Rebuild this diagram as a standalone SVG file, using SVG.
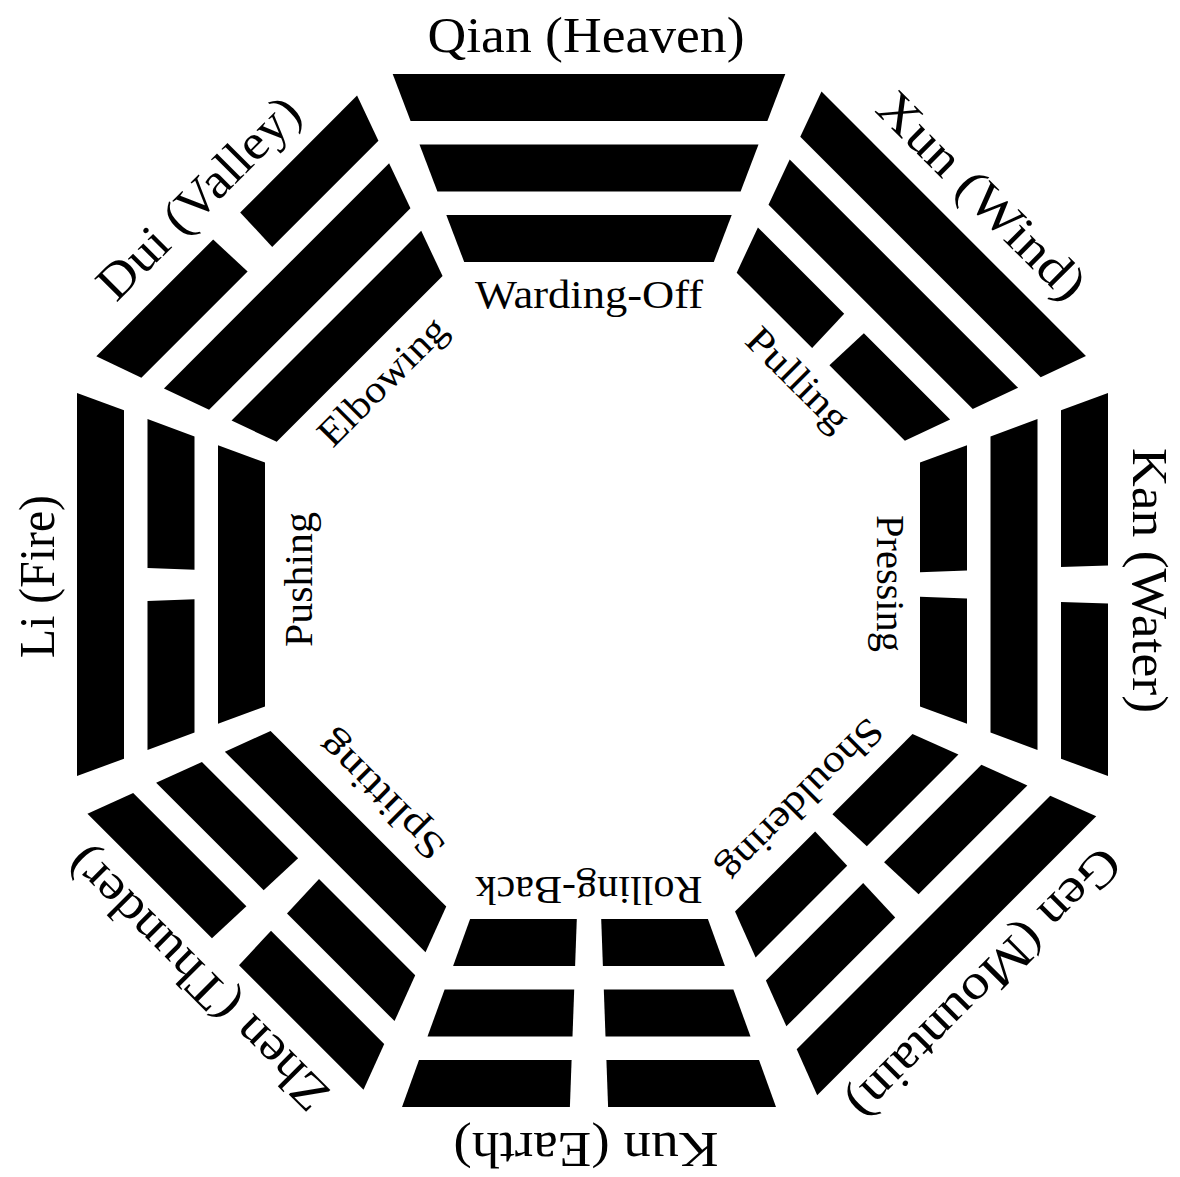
<svg xmlns="http://www.w3.org/2000/svg" width="1180" height="1177" viewBox="0 0 1180 1177">
<style>
  .bar { fill: #000; }
  .outer { font-family: "Liberation Serif", "Times New Roman", serif; font-size: 50px; fill: #000; text-anchor: middle; }
  .inner { font-family: "Liberation Serif", "Times New Roman", serif; font-size: 39px; fill: #000; text-anchor: middle; }
</style>
<rect width="1180" height="1177" fill="#fff"/>

<g id="qian" transform="translate(589,590.5) rotate(0)">
  <polygon class="bar" points="-196.3,-516.5 196.3,-516.5 178.4,-469.5 -178.4,-469.5"/>
  <polygon class="bar" points="-169.5,-446 169.5,-446 151.6,-399 -151.6,-399"/>
  <polygon class="bar" points="-142.7,-375.5 142.7,-375.5 124.8,-328.5 -124.8,-328.5"/>
  <text class="outer" x="-3" y="-539" textLength="317" lengthAdjust="spacingAndGlyphs">Qian (Heaven)</text>
  <text class="inner" x="0" y="-283" textLength="228" lengthAdjust="spacingAndGlyphs">Warding-Off</text>
</g>

<g id="xun" transform="translate(588.5,589) rotate(45)">
  <polygon class="bar" points="-187,-516.5 187,-516.5 170,-469.5 -170,-469.5"/>
  <polygon class="bar" points="-161.5,-446 161.5,-446 144.4,-399 -144.4,-399"/>
  <polygon class="bar" points="-135.9,-375.5 -13.9,-375.5 -12.2,-328.5 -118.9,-328.5"/>
  <polygon class="bar" points="13.9,-375.5 135.9,-375.5 118.9,-328.5 12.2,-328.5"/>
  <text class="outer" x="0" y="-540" textLength="273" lengthAdjust="spacingAndGlyphs">Xun (Wind)</text>
  <text class="inner" x="0" y="-284" textLength="130" lengthAdjust="spacingAndGlyphs">Pulling</text>
</g>

<g id="kan" transform="translate(591.5,584.5) rotate(90)">
  <polygon class="bar" points="-191.6,-516.5 -19.1,-516.5 -17.4,-469.5 -174.2,-469.5"/>
  <polygon class="bar" points="19.1,-516.5 191.6,-516.5 174.2,-469.5 17.4,-469.5"/>
  <polygon class="bar" points="-165.5,-446 165.5,-446 148,-399 -148,-399"/>
  <polygon class="bar" points="-139.3,-375.5 -13.9,-375.5 -12.2,-328.5 -121.9,-328.5"/>
  <polygon class="bar" points="13.9,-375.5 139.3,-375.5 121.9,-328.5 12.2,-328.5"/>
  <text class="outer" x="-4" y="-541" textLength="265" lengthAdjust="spacingAndGlyphs">Kan (Water)</text>
  <text class="inner" x="-1" y="-285" textLength="137" lengthAdjust="spacingAndGlyphs">Pressing</text>
</g>

<g id="gen" transform="translate(591.5,590.5) rotate(135)">
  <polygon class="bar" points="-197.3,-516.5 197.3,-516.5 179.3,-469.5 -179.3,-469.5"/>
  <polygon class="bar" points="-170.4,-446 -16.5,-446 -14.8,-399 -152.4,-399"/>
  <polygon class="bar" points="16.5,-446 170.4,-446 152.4,-399 14.8,-399"/>
  <polygon class="bar" points="-143.4,-375.5 -13.9,-375.5 -12.2,-328.5 -125.5,-328.5"/>
  <polygon class="bar" points="13.9,-375.5 143.4,-375.5 125.5,-328.5 12.2,-328.5"/>
  <text class="outer" x="0" y="-540" textLength="363" lengthAdjust="spacingAndGlyphs">Gen (Mountain)</text>
  <text class="inner" x="0" y="-284" textLength="214" lengthAdjust="spacingAndGlyphs">Shouldering</text>
</g>

<g id="kun" transform="translate(589,590.5) rotate(180)">
  <polygon class="bar" points="-187,-516.5 -19.1,-516.5 -17.4,-469.5 -170,-469.5"/>
  <polygon class="bar" points="19.1,-516.5 187,-516.5 170,-469.5 17.4,-469.5"/>
  <polygon class="bar" points="-161.5,-446 -16.5,-446 -14.8,-399 -144.4,-399"/>
  <polygon class="bar" points="16.5,-446 161.5,-446 144.4,-399 14.8,-399"/>
  <polygon class="bar" points="-135.9,-375.5 -13.9,-375.5 -12.2,-328.5 -118.9,-328.5"/>
  <polygon class="bar" points="13.9,-375.5 135.9,-375.5 118.9,-328.5 12.2,-328.5"/>
  <text class="outer" x="3" y="-542" textLength="265" lengthAdjust="spacingAndGlyphs">Kun (Earth)</text>
  <text class="inner" x="0" y="-286" textLength="227" lengthAdjust="spacingAndGlyphs">Rolling-Back</text>
</g>

<g id="zhen" transform="translate(590.7,586.5) rotate(225)">
  <polygon class="bar" points="-195.2,-516.5 -19.1,-516.5 -17.4,-469.5 -177.5,-469.5"/>
  <polygon class="bar" points="19.1,-516.5 195.2,-516.5 177.5,-469.5 17.4,-469.5"/>
  <polygon class="bar" points="-168.6,-446 -16.5,-446 -14.8,-399 -150.8,-399"/>
  <polygon class="bar" points="16.5,-446 168.6,-446 150.8,-399 14.8,-399"/>
  <polygon class="bar" points="-141.9,-375.5 141.9,-375.5 124.2,-328.5 -124.2,-328.5"/>
  <text class="outer" x="0" y="-540" textLength="349" lengthAdjust="spacingAndGlyphs">Zhen (Thunder)</text>
  <text class="inner" x="0" y="-284" textLength="163" lengthAdjust="spacingAndGlyphs">Splitting</text>
</g>

<g id="li" transform="translate(593.5,584.5) rotate(270)">
  <polygon class="bar" points="-191.6,-516.5 191.6,-516.5 174.2,-469.5 -174.2,-469.5"/>
  <polygon class="bar" points="-165.5,-446 -16.5,-446 -14.8,-399 -148,-399"/>
  <polygon class="bar" points="16.5,-446 165.5,-446 148,-399 14.8,-399"/>
  <polygon class="bar" points="-139.3,-375.5 139.3,-375.5 121.9,-328.5 -121.9,-328.5"/>
  <text class="outer" x="8" y="-540" textLength="163" lengthAdjust="spacingAndGlyphs">Li (Fire)</text>
  <text class="inner" x="5" y="-282" textLength="135" lengthAdjust="spacingAndGlyphs">Pushing</text>
</g>

<g id="dui" transform="translate(591.9,591.2) rotate(315)">
  <polygon class="bar" points="-184.4,-516.5 -19.1,-516.5 -17.4,-469.5 -167.6,-469.5"/>
  <polygon class="bar" points="19.1,-516.5 184.4,-516.5 167.6,-469.5 17.4,-469.5"/>
  <polygon class="bar" points="-159.2,-446 159.2,-446 142.4,-399 -142.4,-399"/>
  <polygon class="bar" points="-134.1,-375.5 134.1,-375.5 117.3,-328.5 -117.3,-328.5"/>
  <text class="outer" x="0" y="-540" textLength="265" lengthAdjust="spacingAndGlyphs">Dui (Valley)</text>
  <text class="inner" x="0" y="-284" textLength="165" lengthAdjust="spacingAndGlyphs">Elbowing</text>
</g>

<g id="connectors"></g>
</svg>
